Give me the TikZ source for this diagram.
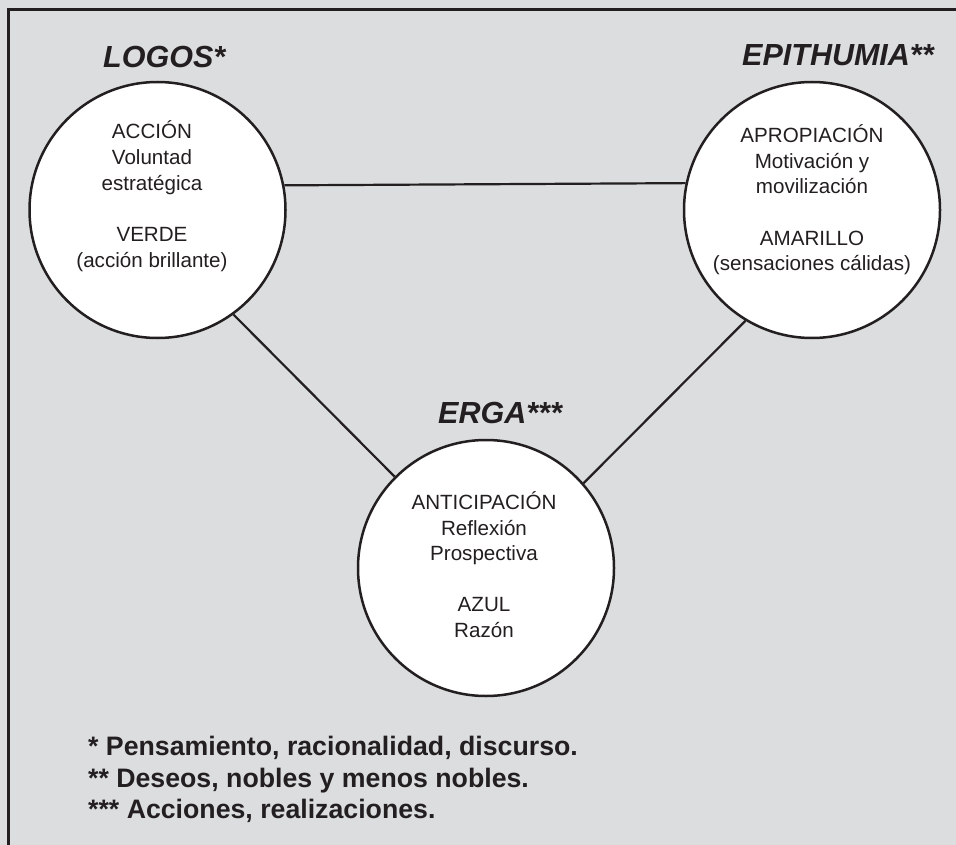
\documentclass[tikz,border=0pt]{standalone}
\usepackage{fontspec}
\setmainfont{Liberation Sans}
\definecolor{paper}{RGB}{220,221,223}
\definecolor{ink}{RGB}{35,31,32}
\tikzset{
  sphere/.style={circle, draw=ink, line width=2.5pt, fill=white, minimum size=256pt, inner sep=0pt},
  link/.style={draw=ink, line width=2.2pt},
  frameline/.style={draw=ink, line width=2.7pt},
  title/.style={anchor=base west, inner sep=0pt, text=ink, font=\fontsize{30.5}{36}\selectfont\bfseries\itshape},
  inner/.style={anchor=base, inner sep=0pt, text=ink, font=\fontsize{20.6}{24}\selectfont},
  note/.style={anchor=base west, inner sep=0pt, text=ink, font=\fontsize{26.7}{30}\selectfont\bfseries}
}
\begin{document}
\begin{tikzpicture}[x=1pt,y=-1pt]
  % paper and the visible part of the frame
  \fill[paper] (0,0) rectangle (956,845);
  \useasboundingbox (0,0) rectangle (956,845);
  \draw[frameline] (8.5,845) -- (8.5,9.5) -- (956,9.5);

  % the three circles
  \node[sphere] (logos) at (157.5,210) {};
  \node[sphere] (epit) at (812,210) {};
  \node[sphere] (erga) at (486,568) {};

  % connectors between the circles
  \draw[link] (logos.11.3) -- (epit.168.7);
  \draw[link] (logos.-54.2) -- (erga.135.6);
  \draw[link] (epit.-121.1) -- (erga.41.2);

  % titles
  \node[title] (tlogos) at (103,68) {LOGOS*};
  \node[title] (tepit) at (742,66) {EPITHUMIA**};
  \node[title] (terga) at (438,423) {ERGA***};

  % contents of LOGOS
  \node[inner] (l1) at (152,139) {ACCIÓN};
  \node[inner] (l2) at (152,165) {Voluntad};
  \node[inner] (l3) at (152,190.5) {estratégica};
  \node[inner] (l4) at (152,242) {VERDE};
  \node[inner] (l5) at (152,267) {(acción brillante)};

  % contents of EPITHUMIA
  \node[inner] (e1) at (812,143) {APROPIACIÓN};
  \node[inner] (e2) at (812,168.5) {Motivación y};
  \node[inner] (e3) at (812,194) {movilización};
  \node[inner] (e4) at (812,246) {AMARILLO};
  \node[inner] (e5) at (812,271) {(sensaciones cálidas)};

  % contents of ERGA
  \node[inner] (g1) at (484,509) {ANTICIPACIÓN};
  \node[inner] (g2) at (484,535) {Reflexión};
  \node[inner] (g3) at (484,560) {Prospectiva};
  \node[inner] (g4) at (484,611.5) {AZUL};
  \node[inner] (g5) at (484,637) {Razón};

  % footnotes
  \node[note] (n1) at (88,755) {* Pensamiento, racionalidad, discurso.};
  \node[note] (n2) at (88,787) {** Deseos, nobles y menos nobles.};
  \node[note] (n3) at (88,818) {*** Acciones, realizaciones.};
\end{tikzpicture}
\end{document}
